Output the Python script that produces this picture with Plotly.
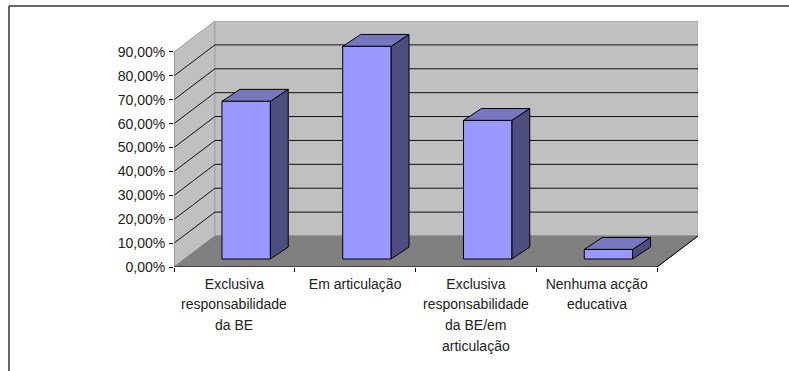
import plotly.graph_objects as go

first_lines = ["Exclusiva", "Em articulação", "Exclusiva", "Nenhuma acção"]
more_lines = [["responsabilidade", "da BE"], [], ["responsabilidade", "da BE/em", "articulação"], ["educativa"]]
values = [66, 89, 58, 4]
y_ticks = [0, 10, 20, 30, 40, 50, 60, 70, 80, 90]
y_labels = ["0,00%", "10,00%", "20,00%", "30,00%", "40,00%", "50,00%", "60,00%", "70,00%", "80,00%", "90,00%"]

WALL = "#c0c0c0"
FLOOR = "#808080"
FRONT = "#9999ff"
TOP = "#7777bf"
SIDE = "#4d4d80"
FONT = "Liberation Sans"
TEXT = "#222222"

# Projection of the depth axis onto the page, in data units
DX, DY = 0.339, 12.97          # full depth of the box
BX, BY = 0.149, 5.0            # depth of a bar
GX, GY = 0.097, 3.35           # gap from front edge to bar front
BAR_W = 0.4
N = len(values)
TOP_V = y_ticks[-1]
X_RANGE = [0, N + DX]
Y_RANGE = [0, TOP_V + DY]

fig = go.Figure()


def poly(xs, ys, fill, line="black", width=1):
    fig.add_trace(go.Scatter(x=xs, y=ys, mode="lines", fill="toself", fillcolor=fill,
                             line=dict(color=line, width=width), hoverinfo="skip",
                             showlegend=False, cliponaxis=False))


def seg(xs, ys, color="black", width=1):
    fig.add_trace(go.Scatter(x=xs, y=ys, mode="lines", line=dict(color=color, width=width),
                             hoverinfo="skip", showlegend=False, cliponaxis=False))


# Walls and floor
poly([0, DX, DX, 0, 0], [0, DY, TOP_V + DY, TOP_V, 0], WALL, "#a0a0a0")
poly([DX, N + DX, N + DX, DX, DX], [DY, DY, TOP_V + DY, TOP_V + DY, DY], WALL, "#a0a0a0")
poly([0, N, N + DX, DX, 0], [0, 0, DY, DY, 0], FLOOR, FLOOR)

# Gridlines on the side and back walls
for t in y_ticks[1:-1]:
    seg([0, DX, N + DX], [t, t + DY, t + DY], "#111111")

# Front edge of the floor, right-hand floor edge and value axis line
seg([0, N], [0, 0], "black")
seg([N, N + DX], [0, DY], "black")
seg([0, 0], [0, TOP_V], "#808080")

centers = [i + 0.5 + GX for i in range(N)]

# Bars: right side and top faces
for c, v in zip(centers, values):
    r = c + BAR_W / 2
    l = c - BAR_W / 2
    t = v + GY
    poly([r, r + BX, r + BX, r, r], [GY, GY + BY, t + BY, t, GY], SIDE)
    poly([l, r, r + BX, l + BX, l], [t, t, t + BY, t + BY, t], TOP)

# Front faces on an overlaid subplot so they sit above the walls
fig.add_trace(go.Bar(x=centers, y=values, base=[GY] * N, width=BAR_W,
                     xaxis="x2", yaxis="y2",
                     marker=dict(color=FRONT, line=dict(color="black", width=1)),
                     hoverinfo="skip", showlegend=False))

# Further lines of the wrapped category labels
annotations = []
for i, lines in enumerate(more_lines):
    for j, txt in enumerate(lines):
        annotations.append(dict(x=i + 0.5, y=0, xref="x", yref="y", text=txt, showarrow=False,
                                xanchor="center", yanchor="middle", yshift=-(16 + 21 * (j + 1)),
                                font=dict(family=FONT, size=14, color=TEXT)))

FRAME_L = -165 / 524
FRAME_R = (789 - 174) / 524
FRAME_T = (246 + 15) / 246
FRAME_B = -104 / 246
frame = dict(color="#333333", width=1.5)

fig.update_layout(
    width=789, height=371,
    margin=dict(l=174, r=91, t=21, b=104, pad=0),
    paper_bgcolor="white", plot_bgcolor="white",
    showlegend=False,
    annotations=annotations,
    xaxis=dict(range=X_RANGE, tickmode="array", tickvals=[i + 0.5 for i in range(N)],
               ticktext=first_lines, ticks="", showgrid=False, showline=False, zeroline=False,
               tickangle=0, ticklabelstandoff=7,
               tickfont=dict(family=FONT, size=14, color=TEXT),
               minor=dict(tickmode="array", tickvals=list(range(N + 1)), ticks="outside", ticklen=4,
                          tickcolor="black", tickwidth=1, showgrid=False)),
    yaxis=dict(range=Y_RANGE, tickmode="array", tickvals=y_ticks, ticktext=y_labels,
               ticks="outside", ticklen=4, tickcolor="black", showgrid=False, showline=False,
               zeroline=False, ticklabelstandoff=1,
               tickfont=dict(family=FONT, size=14, color=TEXT)),
    xaxis2=dict(range=X_RANGE, overlaying="x", visible=False),
    yaxis2=dict(range=Y_RANGE, overlaying="y", visible=False),
    shapes=[dict(type="line", xref="paper", yref="paper", x0=FRAME_L, x1=FRAME_L,
                 y0=FRAME_B, y1=FRAME_T, line=frame),
            dict(type="line", xref="paper", yref="paper", x0=FRAME_L, x1=FRAME_R,
                 y0=FRAME_T, y1=FRAME_T, line=frame)],
)

fig.write_html("out.html", config={"displayModeBar": False},
               post_script="document.body.style.margin='0';")
